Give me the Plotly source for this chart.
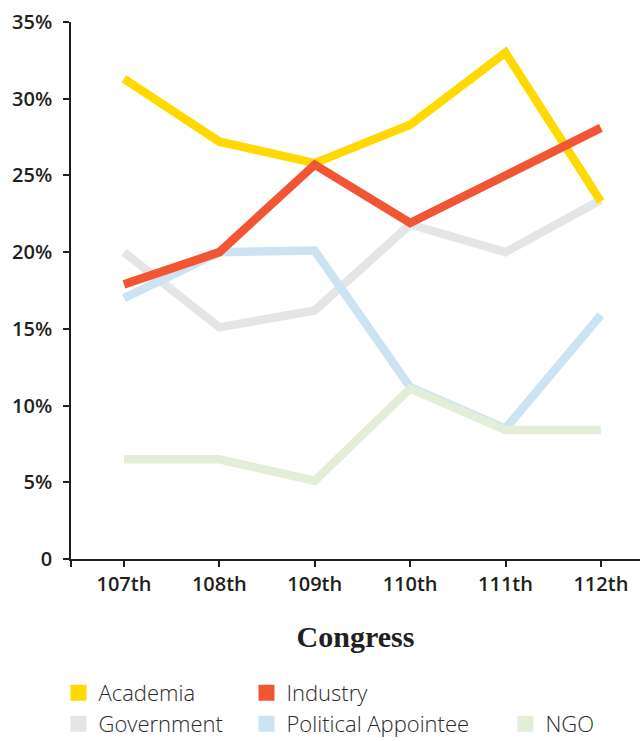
import plotly.graph_objects as go

congress = ["107th", "108th", "109th", "110th", "111th", "112th"]
academia = [31.3, 27.2, 25.8, 28.3, 33.0, 23.3]
industry = [17.9, 20.0, 25.7, 21.9, 25.0, 28.1]
government = [20.0, 15.1, 16.2, 21.8, 20.0, 23.4]
political = [17.0, 20.0, 20.1, 11.2, 8.5, 15.9]
ngo = [6.5, 6.5, 5.1, 11.1, 8.4, 8.4]

y_ticks = [0, 5, 10, 15, 20, 25, 30, 35]
y_ticktext = ["0", "5%", "10%", "15%", "20%", "25%", "30%", "35%"]

colors = {
    "Academia": "#FFD900",
    "Industry": "#F15533",
    "Government": "#E4E5E7",
    "Political Appointee": "#CCE3F1",
    "NGO": "#E2EED7",
}

xs = list(range(len(congress)))
fig = go.Figure()

# draw order (bottom to top)
draw = [("Government", government), ("Political Appointee", political),
        ("NGO", ngo), ("Academia", academia), ("Industry", industry)]
for name, vals in draw:
    fig.add_trace(go.Scatter(x=xs, y=vals, mode="lines", name=name,
                             line=dict(color=colors[name], width=8.5),
                             showlegend=False, hoverinfo="skip"))

# legend entries with square markers, each in its own legend for exact placement
legend_items = [("Academia", "legend"), ("Industry", "legend2"),
                ("Government", "legend3"), ("Political Appointee", "legend4"),
                ("NGO", "legend5")]
for name, lg in legend_items:
    fig.add_trace(go.Scatter(x=[None], y=[None], mode="markers", name=name,
                             marker=dict(symbol="square", size=17, color=colors[name]),
                             showlegend=True, legend=lg))

leg_font = dict(family="Open Sans", size=22, color="#2a2a2a", weight=300)
col_x = [-0.022, 0.3084, 0.7636]
row_y = [-0.2495, -0.3073]
def L(x, y):
    return dict(x=x, y=y, xanchor="left", yanchor="middle", font=leg_font,
                bgcolor="rgba(0,0,0,0)", borderwidth=0)

fig.update_layout(
    width=640, height=741,
    margin=dict(l=71, r=0, t=22, b=182, autoexpand=False),
    paper_bgcolor="white", plot_bgcolor="white",
    legend=L(col_x[0], row_y[0]),
    legend2=L(col_x[1], row_y[0]),
    legend3=L(col_x[0], row_y[1]),
    legend4=L(col_x[1], row_y[1]),
    legend5=L(col_x[2], row_y[1]),
    xaxis=dict(
        range=[-0.555, 5.41], tickmode="array",
        tickvals=[-0.555] + xs, ticktext=[""] + congress,
        showline=True, linecolor="#231f20", linewidth=1.5,
        ticks="outside", ticklen=6, tickcolor="#231f20", tickwidth=1.5,
        showgrid=False, zeroline=False, automargin=False,
        tickfont=dict(family="Open Sans", size=20, color="#231f20", weight=600),
        title=dict(text="Congress", standoff=30,
                   font=dict(family="Liberation Serif", size=30, color="#231f20", weight=700)),
    ),
    yaxis=dict(
        range=[0, 35], tickmode="array", tickvals=y_ticks, ticktext=y_ticktext,
        showline=True, linecolor="#231f20", linewidth=1.5,
        ticks="outside", ticklen=6, tickcolor="#231f20", tickwidth=1.5,
        showgrid=False, zeroline=False, ticklabelstandoff=7, automargin=False,
        tickfont=dict(family="Open Sans", size=20, color="#231f20", weight=600),
    ),
)

fig.write_html("out.html")
